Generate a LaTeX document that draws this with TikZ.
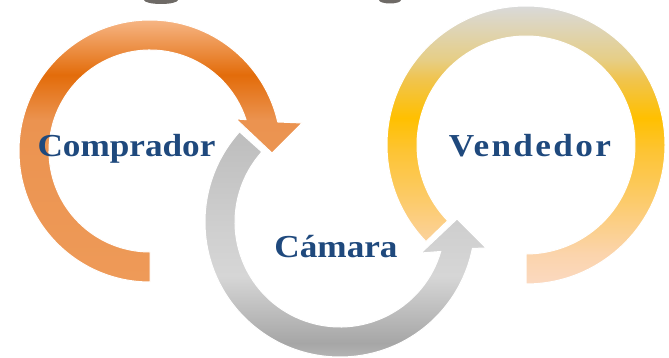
\documentclass[tikz,border=0pt]{standalone}
\usepackage{fontspec}
\newfontfamily\lblfont{Liberation Serif}[FakeStretch=1.1]
\definecolor{txtblue}{HTML}{1F497D}
\definecolor{blobgray}{HTML}{6E6A66}
\definecolor{oA}{HTML}{EE9A58}
\definecolor{oB}{HTML}{EB9350}
\definecolor{oC}{HTML}{E36C0A}
\definecolor{oD}{HTML}{F6B584}
\definecolor{gA}{HTML}{C4C4C4}
\definecolor{gB}{HTML}{A6A6A6}
\definecolor{gC}{HTML}{D6D6D6}
\definecolor{gD}{HTML}{CFCFCF}
\definecolor{gE}{HTML}{BDBDBD}
\definecolor{yA}{HTML}{FBD9C0}
\definecolor{yB}{HTML}{FBD4AC}
\definecolor{yC}{HTML}{FCCB6A}
\definecolor{yD}{HTML}{FDC433}
\definecolor{yE}{HTML}{FFC000}
\definecolor{yF}{HTML}{F0C450}
\definecolor{yG}{HTML}{E6CE85}
\definecolor{yH}{HTML}{D9D9D9}
\pgfdeclareverticalshading{orangeshade}{100bp}{color(0bp)=(oA); color(25bp)=(oA); color(55.9bp)=(oB); color(64.5bp)=(oC); color(75bp)=(oD); color(100bp)=(oD)}
\pgfdeclareverticalshading{grayshade}{100bp}{color(0bp)=(gA); color(25bp)=(gA); color(31bp)=(gB); color(45bp)=(gC); color(55bp)=(gD); color(75bp)=(gE); color(100bp)=(gE)}
\pgfdeclareverticalshading{yellowshade}{100bp}{color(0bp)=(yA); color(25bp)=(yA); color(30.4bp)=(yB); color(40.1bp)=(yC); color(49bp)=(yD); color(54.9bp)=(yE); color(62bp)=(yF); color(65.3bp)=(yG); color(75bp)=(yH); color(100bp)=(yH)}
\begin{document}
\begin{tikzpicture}[x=1pt,y=-1pt,
  ringtext/.style={font=\lblfont\bfseries\fontsize{32}{38}\selectfont, text=txtblue, anchor=base, inner sep=0pt},
  ringshape/.style={draw=white, line width=1pt}]
\useasboundingbox (0,0) rectangle (669,358);
\coordinate (c1) at (150,151);
\coordinate (c2) at (340,222);
\coordinate (c3) at (526,145);
% remnants at the top edge
\fill[blobgray] (161,0) ellipse[x radius=17, y radius=4];
\fill[blobgray] (390,0) ellipse[x radius=11, y radius=3.5];
% ring 3 (Vendedor)
\shadedraw[ringshape, shading=yellowshade]
  ([shift={(90:139)}]c3) arc[start angle=90, end angle=-224, radius=139]
  -- ([shift={(-224:109)}]c3) arc[start angle=-224, end angle=90, radius=109] -- cycle;
% ring 2 (Camara)
\shadedraw[ringshape, shading=grayshade]
  ([shift={(221.9:135)}]c2) arc[start angle=221.9, end angle=11.3, radius=135]
  -- (486,248) -- (457,219) -- (421,253)
  -- ([shift={(16.3:105)}]c2) arc[start angle=16.3, end angle=221.9, radius=105] -- cycle;
% ring 1 (Comprador)
\shadedraw[ringshape, shading=orangeshade]
  ([shift={(90:131)}]c1) arc[start angle=90, end angle=347.2, radius=131]
  -- (302,123) -- (272,153) -- (236,119)
  -- ([shift={(341.9:101)}]c1) arc[start angle=341.9, end angle=90, radius=101] -- cycle;
% labels
\node[ringtext] (t1) at (126.5,157) {Comprador};
\node[ringtext] (t2) at (336,257) {Cámara};
\node[ringtext] (t3) at (530,157) {\addfontfeature{LetterSpace=7.5}Vendedor};
\end{tikzpicture}
\end{document}
